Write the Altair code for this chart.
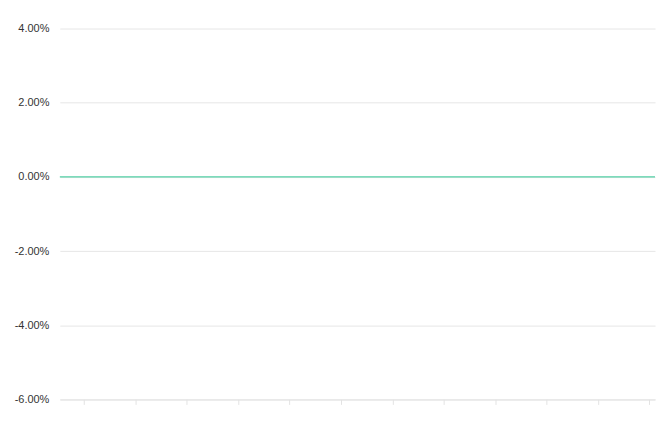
import altair as alt
import pandas as pd

# day index across the period and the return series (flat at 0%)
days = list(range(0, 82))
returns = [0.0] * len(days)
x_ticks = [3.25 + 7 * k for k in range(12)]
y_ticks = [-0.06, -0.04, -0.02, 0.0, 0.02, 0.04]

df = pd.DataFrame({"day": days, "ret": returns})

chart = alt.Chart(df).mark_line(color="#52cfa5", strokeWidth=1.2).encode(
    x=alt.X("day:Q", scale=alt.Scale(domain=[0, 81], nice=False, zero=False),
            axis=alt.Axis(values=x_ticks, labels=False, grid=False, title=None,
                          domainColor="#e3e3e3", tickColor="#e3e3e3", tickSize=5)),
    y=alt.Y("ret:Q", scale=alt.Scale(domain=[-0.06, 0.04], nice=False),
            axis=alt.Axis(values=y_ticks, title=None, ticks=False,
                          labelExpr="(datum.value < 0 ? '-' : '') + format(abs(datum.value), '.2%')",
                          domain=False, labelPadding=11, gridColor="#e6e6e6",
                          labelColor="#333333", labelFontSize=11,
                          labelFont="Liberation Sans")),
).properties(
    width=597, height=372,
    padding={"left": 6, "top": 14, "right": 1, "bottom": 2},
).configure_view(stroke=None)

chart.save("out.html", embed_options={"renderer": "svg", "actions": False})
